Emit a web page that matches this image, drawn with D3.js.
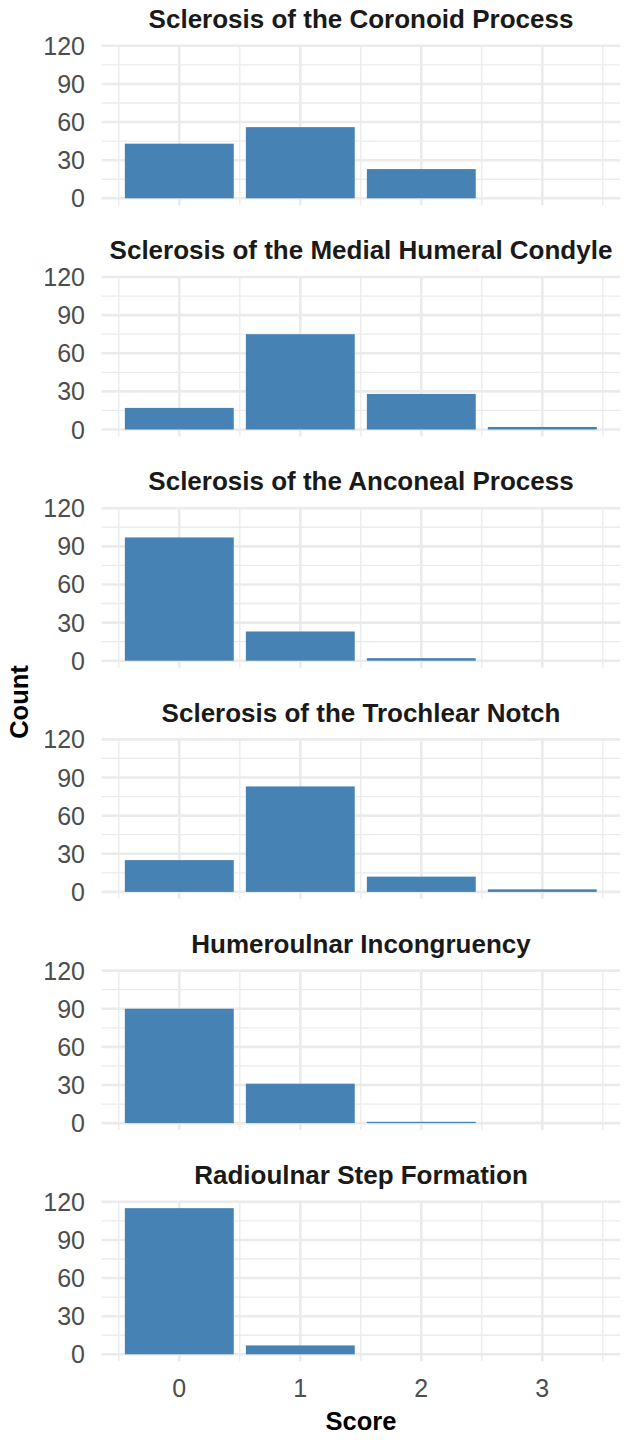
<!DOCTYPE html>
<html>
<head>
<meta charset="utf-8">
<script src="https://cdn.jsdelivr.net/npm/d3@7"></script>
<style>
  html, body { margin: 0; padding: 0; background: #fff; }
  svg { display: block; }
  text { font-family: "Liberation Sans", Arial, Helvetica, sans-serif; }
</style>
</head>
<body>
<script>
// ---- data ----
const panelTitles = [
  "Sclerosis of the Coronoid Process",
  "Sclerosis of the Medial Humeral Condyle",
  "Sclerosis of the Anconeal Process",
  "Sclerosis of the Trochlear Notch",
  "Humeroulnar Incongruency",
  "Radioulnar Step Formation"
];
const scores = [0, 1, 2, 3];
const coronoidCounts      = [43, 56, 23, 0];
const medialCondyleCounts = [17, 75, 28, 2];
const anconealCounts      = [97, 23, 2, 0];
const trochlearCounts     = [25, 83, 12, 2];
const incongruencyCounts  = [90, 31, 1, 0];
const stepCounts          = [115, 7, 0, 0];
const yTicks = [0, 30, 60, 90, 120];
const yMinorTicks = [15, 45, 75, 105];
const xMinorTicks = [-0.5, 0.5, 1.5, 2.5, 3.5];
const yAxisTitle = "Count";
const xAxisTitle = "Score";

const seriesList = [coronoidCounts, medialCondyleCounts, anconealCounts,
                    trochlearCounts, incongruencyCounts, stepCounts];

// ---- layout ----
const W = 630, H = 1440;
const svg = d3.select("body").append("svg").attr("width", W).attr("height", H);

const gridColor = "#EBEBEB";
const barColor = "#4682B4";
const panelLeft = 101.7, panelRight = 620.3;
const firstZero = 198.3, panelStep = 231.2, panelHeight = 152.5;

const x = d3.scaleLinear().domain([0, 3]).range([179.3, 542.3]);
const barHalf = 0.45;

seriesList.forEach((vals, i) => {
  const y0 = firstZero + i * panelStep;
  const y = d3.scaleLinear().domain([0, 120]).range([y0, y0 - panelHeight]);
  const g = svg.append("g");

  g.selectAll("line.hmin").data(yMinorTicks).enter().append("line")
    .attr("x1", panelLeft).attr("x2", panelRight)
    .attr("y1", d => y(d)).attr("y2", d => y(d))
    .attr("stroke", gridColor).attr("stroke-width", 1.3);
  g.selectAll("line.vmin").data(xMinorTicks).enter().append("line")
    .attr("x1", d => x(d)).attr("x2", d => x(d))
    .attr("y1", y(120)).attr("y2", y(-5.5))
    .attr("stroke", gridColor).attr("stroke-width", 1.3);
  g.selectAll("line.hmaj").data(yTicks).enter().append("line")
    .attr("x1", panelLeft).attr("x2", panelRight)
    .attr("y1", d => y(d)).attr("y2", d => y(d))
    .attr("stroke", gridColor).attr("stroke-width", 2.6);
  g.selectAll("line.vmaj").data(scores).enter().append("line")
    .attr("x1", d => x(d)).attr("x2", d => x(d))
    .attr("y1", y(120)).attr("y2", y(-5.5))
    .attr("stroke", gridColor).attr("stroke-width", 2.6);

  g.selectAll("rect.bar").data(scores.map((s, j) => ({s, v: vals[j]})).filter(d => d.v > 0))
    .enter().append("rect")
    .attr("x", d => x(d.s - barHalf))
    .attr("width", d => x(d.s + barHalf) - x(d.s - barHalf))
    .attr("y", d => y(d.v))
    .attr("height", d => y(0) - y(d.v))
    .attr("fill", barColor);

  g.selectAll("text.yt").data(yTicks).enter().append("text")
    .attr("x", 85).attr("y", d => y(d))
    .attr("dy", "0.36em")
    .attr("text-anchor", "end")
    .attr("font-size", 25)
    .attr("fill", "#4D4D4D")
    .text(d => d);

  g.append("text")
    .attr("x", (panelLeft + panelRight) / 2)
    .attr("y", y0 - 170.3)
    .attr("text-anchor", "middle")
    .attr("font-size", 26)
    .attr("font-weight", "bold")
    .attr("fill", "#1A1A1A")
    .text(panelTitles[i]);

  if (i === seriesList.length - 1) {
    g.selectAll("text.xt").data(scores).enter().append("text")
      .attr("x", d => x(d)).attr("y", 1397)
      .attr("text-anchor", "middle")
      .attr("font-size", 25)
      .attr("fill", "#4D4D4D")
      .text(d => d);
  }
});

svg.append("text")
  .attr("x", (panelLeft + panelRight) / 2).attr("y", 1430)
  .attr("text-anchor", "middle")
  .attr("font-size", 25.5).attr("font-weight", "bold").attr("fill", "#000")
  .text(xAxisTitle);

svg.append("text")
  .attr("transform", "translate(28,702) rotate(-90)")
  .attr("text-anchor", "middle")
  .attr("font-size", 25.5).attr("font-weight", "bold").attr("fill", "#000")
  .text(yAxisTitle);
</script>
</body>
</html>
